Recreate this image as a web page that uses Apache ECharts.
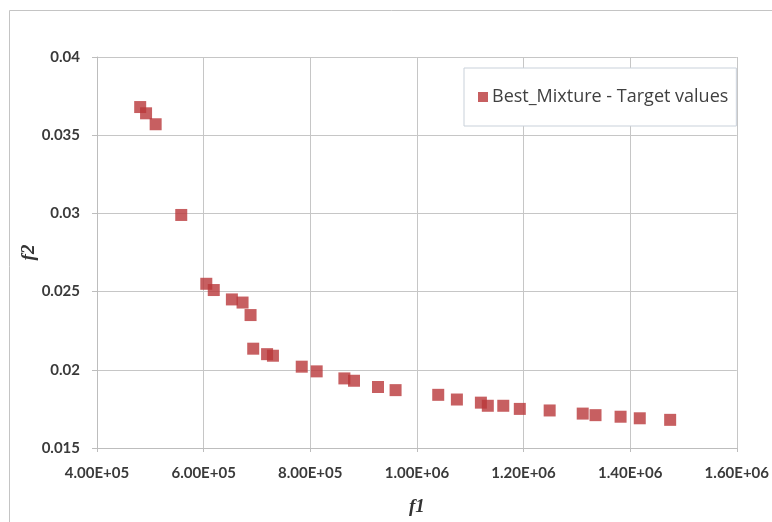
<!DOCTYPE html>
<html>
<head>
<meta charset="utf-8">
<script src="https://cdn.jsdelivr.net/npm/echarts@6/dist/echarts.min.js"></script>
<style>html,body{margin:0;padding:0;background:#fff}#c{width:772px;height:522px}</style>
</head>
<body>
<div id="c"></div>
<script>
var seriesName = 'Best_Mixture - Target values';
var f1 = [481000, 492000, 510000, 558000, 605000, 619000, 653000, 673000, 688000, 693000,
          719000, 730000, 784000, 812000, 864000, 882000, 927000, 960000, 1040000, 1075000,
          1120000, 1133000, 1162000, 1193000, 1249000, 1311000, 1335000, 1382000, 1418000, 1475000];
var f2 = [0.0368, 0.0364, 0.0357, 0.0299, 0.0255, 0.0251, 0.0245, 0.0243, 0.0235, 0.02135,
          0.0210, 0.0209, 0.0202, 0.0199, 0.01945, 0.0193, 0.0189, 0.0187, 0.0184, 0.0181,
          0.0179, 0.0177, 0.0177, 0.0175, 0.0174, 0.0172, 0.0171, 0.0170, 0.0169, 0.0168];
var xTicks = {min: 400000, max: 1600000, step: 200000};
var yTicks = {min: 0.015, max: 0.04, step: 0.005};

function sci(v) {
  var s = Number(v).toExponential(2).toUpperCase();
  var m = s.match(/^(.*)E([+-])(\d+)$/);
  var e = m[3].length < 2 ? '0' + m[3] : m[3];
  return m[1] + 'E' + m[2] + e;
}

var pts = f1.map(function (x, i) { return [x, f2[i]]; });
var chart = echarts.init(document.getElementById('c'), null, {renderer: 'canvas'});
var labelFont = {color: '#3a3a3a', fontFamily: 'Lato, "Open Sans", sans-serif', fontSize: 15, fontWeight: 'bold'};
chart.setOption({
  animation: false,
  backgroundColor: '#ffffff',
  graphic: [{
    type: 'rect', shape: {x: 9.5, y: 10.5, width: 800, height: 540},
    style: {fill: 'none', stroke: '#c4c4c4', lineWidth: 1}, silent: true, z: -1
  }],
  grid: {left: 97, right: 29, top: 57, bottom: 71, containLabel: false},
  legend: {
    data: [{name: seriesName, icon: 'rect'}],
    left: 464, top: 68,
    orient: 'vertical',
    padding: [20, 8, 20, 14],
    itemWidth: 10, itemHeight: 10, itemGap: 6,
    backgroundColor: '#ffffff',
    borderColor: '#c9d1da', borderWidth: 1,
    textStyle: {color: '#404040', fontFamily: '"Open Sans", Lato, sans-serif', fontSize: 18, padding: [0, 0, 0, -1]}
  },
  xAxis: {
    type: 'value', min: xTicks.min, max: xTicks.max, interval: xTicks.step,
    name: 'f1', nameLocation: 'middle', nameGap: 50, nameMoveOverlap: false,
    nameTextStyle: {fontFamily: '"Liberation Serif", "DejaVu Serif", serif', fontStyle: 'italic', fontWeight: 'bold', fontSize: 19, color: '#333'},
    axisLine: {show: true, lineStyle: {color: '#bdbdbd'}},
    axisTick: {show: true, length: 4, lineStyle: {color: '#bdbdbd'}},
    splitLine: {show: true, lineStyle: {color: '#c6c6c6', width: 1}},
    axisLabel: Object.assign({margin: 18, formatter: sci, showMaxLabel: true}, labelFont)
  },
  yAxis: {
    type: 'value', min: yTicks.min, max: yTicks.max, interval: yTicks.step,
    name: 'f2', nameLocation: 'middle', nameGap: 58, nameMoveOverlap: false,
    nameTextStyle: {fontFamily: '"Liberation Serif", "DejaVu Serif", serif', fontStyle: 'italic', fontWeight: 'bold', fontSize: 19, color: '#333'},
    axisLine: {show: true, lineStyle: {color: '#bdbdbd'}},
    axisTick: {show: true, length: 5, lineStyle: {color: '#bdbdbd'}},
    splitLine: {show: true, lineStyle: {color: '#c6c6c6', width: 1}},
    axisLabel: Object.assign({margin: 17, formatter: function (v) { return String(parseFloat(v.toFixed(4))); }}, labelFont)
  },
  series: [{
    name: seriesName, type: 'scatter', data: pts,
    symbol: 'rect', symbolSize: 12,
    itemStyle: {color: '#b9373a'}
  }]
});
</script>
</body>
</html>
